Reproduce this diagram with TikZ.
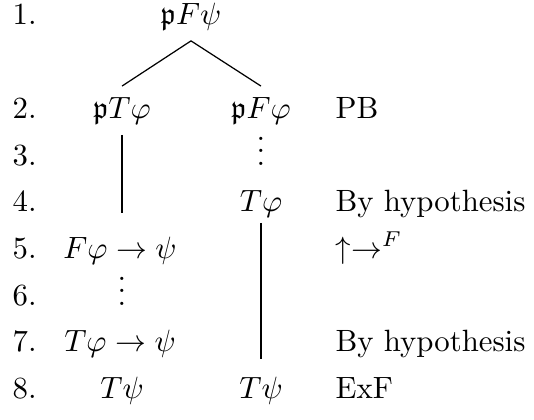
\documentclass[tikz,border=0pt]{standalone}
\usepackage{amsmath,amssymb}
\begin{document}
\begin{tikzpicture}[x=0.3247pt,y=-0.3247pt,
  lbl/.style={anchor=base west, inner sep=0pt},
  frm/.style={anchor=base},
  dotsnode/.style={anchor=base, inner sep=0pt},
  just/.style={anchor=base west, inner sep=0pt}]
\useasboundingbox (0,0) rectangle (534,420);
% line numbers
\node[lbl] (n1) at (12,24) {1.};
\node[lbl] (n2) at (12,118) {2.};
\node[lbl] (n3) at (12,165) {3.};
\node[lbl] (n4) at (12,211) {4.};
\node[lbl] (n5) at (12,258) {5.};
\node[lbl] (n6) at (12,305) {6.};
\node[lbl] (n7) at (12,351) {7.};
\node[lbl] (n8) at (12,398) {8.};
% tree
\node[frm] (a) at (191,24) {$\mathfrak{p}F\psi$};
\node[frm] (b) at (122,118) {$\mathfrak{p}T\varphi$};
\node[frm] (c) at (261,118) {$\mathfrak{p}F\varphi$};
\node[dotsnode] (d3) at (261,165) {$\vdots$};
\node[frm] (e) at (261,211) {$T\varphi$};
\node[frm] (f) at (120,258) {$F\varphi\rightarrow\psi$};
\node[dotsnode] (d6) at (122,305) {$\vdots$};
\node[frm] (g) at (120,351) {$T\varphi\rightarrow\psi$};
\node[frm] (h) at (122,398) {$T\psi$};
\node[frm] (i) at (261,398) {$T\psi$};
% justifications
\node[just] (j2) at (335,118) {PB};
\node[just] (j4) at (335,211) {By hypothesis};
\node[just] (j5) at (335,258) {$\uparrow\rightarrow^F$};
\node[just] (j7) at (335,351) {By hypothesis};
\node[just] (j8) at (335,398) {ExF};
% connectors
\draw (a.south) -- (b.north);
\draw (a.south) -- (c.north);
\draw[shorten >=4.2pt] (b.south) -- (b.south |- f.north);
\draw[shorten <=-1.6pt, shorten >=2.2pt] (e.south) -- (i.north);
\end{tikzpicture}
\end{document}
